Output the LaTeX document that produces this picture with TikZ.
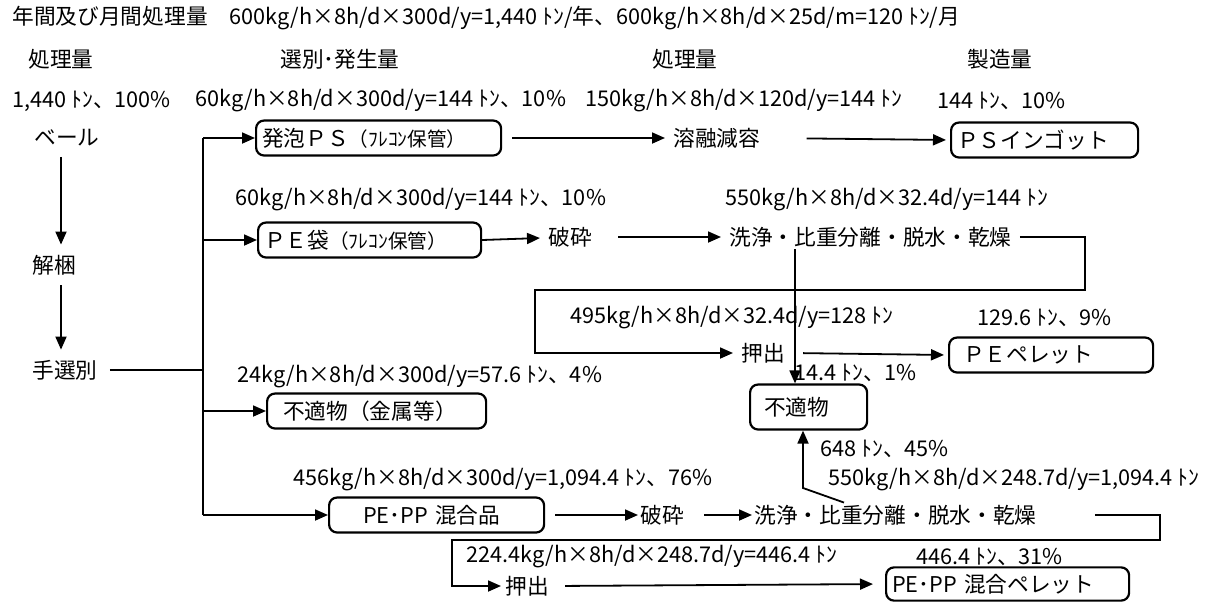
\documentclass[tikz,border=0pt]{standalone}
\usepackage{fontspec}
\setmainfont{Noto Sans CJK JP}
\usetikzlibrary{arrows.meta, calc}

\begin{document}
\begin{tikzpicture}[x=0.5pt, y=-0.5pt,
    font=\fontsize{10.85}{12}\selectfont,
    lbl/.style={anchor=west, inner sep=1pt},
    hdr/.style={anchor=center, inner sep=1pt},
    proc/.style={anchor=west, inner xsep=4pt, inner ysep=1pt},
    stage/.style={anchor=center, inner xsep=2pt, inner ysep=5pt},
    pbox/.style={draw, rounded corners=4pt, line width=1.1pt, anchor=west, align=left, inner xsep=3pt, minimum height=17.5pt},
    arr/.style={line width=0.9pt, -{Triangle[length=6.5pt, width=5.5pt]}},
    ln/.style={line width=0.9pt},
]
\useasboundingbox (0,0) rectangle (1222,601);

% === Title and column headers ===
\node[lbl] (title) at (10,18) {年間及び月間処理量　600kg/h×8h/d×300d/y=1,440 ﾄﾝ/年、600kg/h×8h/d×25d/m=120 ﾄﾝ/月};
\node[hdr] (hdrA) at (61,59) {処理量};
\node[hdr] (hdrB) at (340,59) {選別･発生量};
\node[hdr] (hdrC) at (685,59) {処理量};
\node[hdr] (hdrD) at (1000,59) {製造量};

% === Left column ===
\node[lbl] (qtyAll) at (10,101) {1,440 ﾄﾝ、100\%};
\node[stage] (bale) at (67,138) {ベール};
\node[stage] (kaikon) at (54,265) {解梱};
\node[stage, inner xsep=6pt] (tesen) at (65,370) {手選別};
\coordinate (vx) at (61,0);

\draw[arr] (bale.south -| vx) -- (kaikon.north -| vx);
\draw[arr] (kaikon.south -| vx) -- (tesen.north -| vx);

% === Foamed PS ===
\node[lbl] (qtyPS) at (193,101) {60kg/h×8h/d×300d/y=144 ﾄﾝ、10\%};
\node[lbl] (qtyYoyu) at (583,101) {150kg/h×8h/d×120d/y=144 ﾄﾝ};
\node[lbl] (qtyIngot) at (935,101) {144 ﾄﾝ、10\%};
\node[pbox, text width=116.5pt] (psbox) at (255,138) {発泡ＰＳ{\fontsize{9.8}{10}\selectfont（ﾌﾚｺﾝ保管）}};
\node[proc] (yoyu) at (665,138) {溶融減容};
\node[pbox, text width=87.5pt] (psingot) at (950,140) {ＰＳインゴット};

% === PE bags ===
\node[lbl] (qtyPE) at (233,200) {60kg/h×8h/d×300d/y=144 ﾄﾝ、10\%};
\node[lbl] (qtyPEsen) at (723,200) {550kg/h×8h/d×32.4d/y=144 ﾄﾝ};
\node[pbox, text width=105.5pt] (pebag) at (257,240) {ＰＥ袋{\fontsize{9.8}{10}\selectfont（ﾌﾚｺﾝ保管）}};
\node[proc] (pehasai) at (540,237) {破砕};
\node[proc] (pesenjo) at (721,237) {洗浄・比重分離・脱水・乾燥};
\node[lbl] (qtyPEoshi) at (568,318) {495kg/h×8h/d×32.4d/y=128 ﾄﾝ};
\node[lbl] (qtyPEpel) at (975,318) {129.6 ﾄﾝ、9\%};
\node[proc] (peoshi) at (733,353) {押出};
\node[pbox, text width=96pt] (pepellet) at (948,355) {\hspace*{4pt}ＰＥペレット};

% === Unsuitable matter ===
\node[lbl] (qtyKin) at (235,377) {24kg/h×8h/d×300d/y=57.6 ﾄﾝ、4\%};
\node[pbox, text width=103.5pt] (kinzoku) at (266,411) {\hspace*{5pt}不適物（金属等）};
\node[lbl] (qtyFu1) at (792,373) {14.4 ﾄﾝ、1\%};
\node[pbox, text width=52.5pt, minimum height=22.5pt] (futeki) at (749,407) {\hspace*{4pt}不適物};
\node[lbl] (qtyFu2) at (818,449) {648 ﾄﾝ、45\%};

% === PE/PP mixture ===
\node[lbl] (qtyMix) at (291,480) {456kg/h×8h/d×300d/y=1,094.4 ﾄﾝ、76\%};
\node[lbl] (qtyMixsen) at (826,480) {550kg/h×8h/d×248.7d/y=1,094.4 ﾄﾝ};
\node[pbox, text width=101.5pt] (mixbox) at (328,515) {\hspace*{14pt}PE･PP 混合品};
\node[proc, inner xsep=1pt] (mixhasai) at (638,515) {破砕};
\node[proc, inner xsep=1pt] (mixsenjo) at (752,515) {洗浄・比重分離・脱水・乾燥};
\node[lbl] (qtyMixoshi) at (464,557) {224.4kg/h×8h/d×248.7d/y=446.4 ﾄﾝ};
\node[lbl] (qtyMixpel) at (914,557) {446.4 ﾄﾝ、31\%};
\node[proc, inner xsep=2pt] (mixoshi) at (501,586) {押出};
\node[pbox, text width=115.5pt, minimum height=16pt] (mixpellet) at (885,584) {PE･PP 混合ペレット};

% Sorting branch
\coordinate (br) at (203,0);
\draw[ln] (tesen.east) -- (tesen.east -| br);
\draw[ln] (psbox.west -| br) -- (mixbox.west -| br);
\foreach \b in {psbox, pebag, kinzoku, mixbox}
    \draw[arr] (\b.west -| br) -- (\b.west);

% Main flows
\draw[arr, shorten <=5pt] (psbox.east) -- (yoyu);
\draw[arr, shorten <=19pt, shorten >=2pt] (yoyu.east) -- (psingot.west);
\draw[arr] (pebag.east) -- (pehasai);
\draw[arr, shorten <=9pt] (pehasai.east) -- (pesenjo);
\coordinate (peR) at (1085,290);
\coordinate (peL) at (535,290);
\draw[arr] (pesenjo.east) -| (peR) -- (peL) |- (peoshi.west);
\draw[arr, shorten <=5pt, shorten >=2pt] (peoshi.east) -- (pepellet.west);
\coordinate (fx) at (795,0);
\draw[arr] (pesenjo.south -| fx) -- (futeki.north -| fx);

\draw[arr, shorten <=5pt] (mixbox.east) -- (mixhasai.west);
\draw[arr, shorten <=9pt] (mixhasai.east) -- (mixsenjo.west);
\coordinate (fbend) at (803,488);
\draw[arr] ([xshift=46pt]mixsenjo.north west) -- (fbend) -- (futeki.south -| fbend);
\coordinate (mxR) at (1160,540);
\coordinate (mxL) at (452,540);
\draw[arr, shorten <=28pt] (mixsenjo.east) -| (mxR) -- (mxL) |- (mixoshi.west);
\draw[arr, shorten <=6pt, shorten >=6pt] (mixoshi.east) -- (mixpellet.west);
\end{tikzpicture}
\end{document}
